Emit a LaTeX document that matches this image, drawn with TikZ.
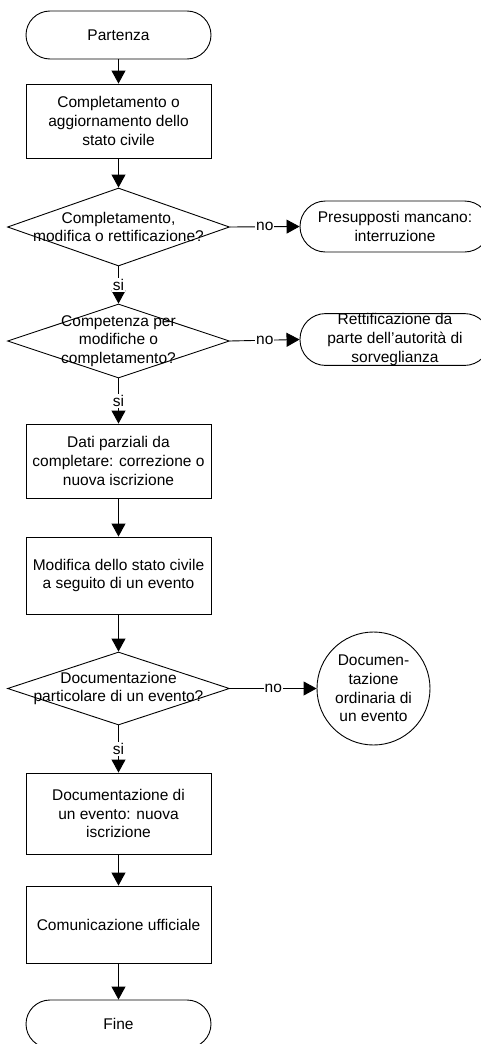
\documentclass[tikz,border=0pt]{standalone}
\usepackage{fontspec}
\setmainfont{Liberation Sans}
\usetikzlibrary{shapes.geometric,arrows.meta}
\begin{document}
\begin{tikzpicture}[x=1pt,y=-1pt,
  every node/.style={font=\fontsize{15.5}{18.7}\selectfont, align=center, inner sep=0pt},
  box/.style={draw, line width=0.9pt, rectangle, minimum width=185pt},
  term/.style={draw, line width=0.9pt, rectangle, rounded corners=24pt, minimum width=185pt, minimum height=48pt},
  termb/.style={draw, line width=0.9pt, rectangle, rounded corners=25.5pt, minimum width=190pt, minimum height=51pt},
  dec/.style={draw, line width=0.9pt, diamond, minimum width=222pt},
  circ/.style={draw, line width=0.9pt, circle, minimum size=113pt},
  flow/.style={line width=0.9pt, -{Triangle[width=14pt,length=13pt]}},
  lab/.style={fill=white, inner sep=1pt}
]
\useasboundingbox (0,0) rectangle (481,1044);

\node[term] (start) at (118.5,35) {Partenza};
\node[box, minimum height=74pt] (r1) at (118.5,121) {Completamento o\\aggiornamento dello\\stato civile};
\node[dec, minimum height=78pt] (d1) at (118.5,227) {};
\node (d1t) at (d1.center) {Completamento,\\modifica o rettificazione?};
\node[termb] (t1) at (395,226.5) {Presupposti mancano:\\interruzione};
\node[dec, minimum height=74pt] (d2) at (118.5,341) {};
\node (d2t) at (d2.center) {Competenza per\\modifiche o\\completamento?};
\node[termb] (t2) at (395,339.5) {Rettificazione da\\parte dell’autorità di\\sorveglianza};
\node[box, minimum height=74pt] (r2) at (118.5,461) {Dati parziali da\\completare: correzione o\\nuova iscrizione};
\node[box, minimum height=77pt] (r3) at (118.5,575.5) {Modifica dello stato civile\\a seguito di un evento};
\node[dec, minimum height=73pt] (d3) at (118.5,688.5) {};
\node (d3t) at (d3.center) {Documentazione\\particolare di un evento?};
\node[circ] (c) at (373.5,688.5) {Documen-\\tazione\\ordinaria di\\un evento};
\node[box, minimum height=81pt] (r4) at (118.5,813.5) {Documentazione di\\un evento: nuova\\iscrizione};
\node[box, minimum height=77pt] (r5) at (118.5,924.5) {Comunicazione ufficiale};
\node[term] (fine) at (118.5,1024) {Fine};

\draw[flow] (start) -- (r1);
\draw[flow] (r1) -- (d1);
\draw[flow] (d1) -- node[lab] {si} (d2);
\draw[flow] (d2) -- node[lab] {si} (r2);
\draw[flow] (r2) -- (r3);
\draw[flow] (r3) -- (d3);
\draw[flow] (d3) -- node[lab] {si} (r4);
\draw[flow] (r4) -- (r5);
\draw[flow] (r5) -- (fine);
\draw[flow] (d1.east) -- node[lab] {no} (t1.west);
\draw[flow] (d2.east) -- node[lab] {no} (t2.west);
\draw[flow] (d3.east) -- node[lab] {no} (c.west);
\end{tikzpicture}
\end{document}
